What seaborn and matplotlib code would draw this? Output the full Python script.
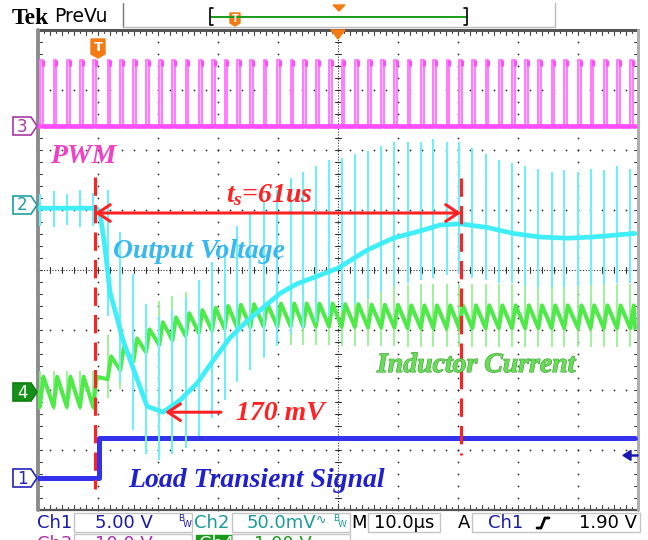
import numpy as np
import pandas as pd
import matplotlib
matplotlib.use("Agg")
import matplotlib.pyplot as plt
import seaborn as sns
from matplotlib.patches import Polygon, Rectangle
import matplotlib.patheffects as pe

# ---------------- scope settings ----------------
CH1_V_PER_DIV = 5.0      # load transient signal
CH2_MV_PER_DIV = 50.0    # output voltage (AC)
CH3_V_PER_DIV = 10.0     # PWM
CH4_A_PER_DIV = 1.0      # inductor current
TRIG_LEVEL_V = 1.90

# ---------------- waveform data (time in us, trigger at 0) ----------------
pwm_pulse_us = [-9.7, -7.4, -5.2, -3.0, -0.8, 1.6, 3.7, 5.9, 8.0, 10.2, 12.4, 14.6,
                16.8, 19.0, 21.1, 23.2, 25.4, 27.6, 29.9, 32.1, 34.2, 36.3, 38.5,
                40.6, 42.8, 45.0, 47.2, 49.4, 51.6, 53.8, 55.9, 58.1, 60.2, 62.4,
                64.6, 66.8, 69.0, 71.2, 73.4, 75.6, 77.7, 80.0, 82.1, 84.3, 86.5, 88.7]
pwm_high_v = 11.0
pwm_width_us = 0.45

# output voltage: deviation from the pre-step level
vout_t_us = [-10.0, -0.2, 0.33, 1.17, 2.0, 2.83, 4.17, 5.83, 8.17, 10.83, 13.67, 16.5,
             19.17, 22.0, 24.83, 27.5, 30.33, 33.17, 35.83, 40.0, 44.83, 49.17, 53.67,
             57.0, 60.33, 64.83, 69.17, 73.67, 78.17, 82.5, 89.5]
vout_dev_mv = [0, 0, -4, -33, -70, -85, -110, -133, -165, -170, -160, -146,
               -127, -108, -94, -83, -71, -63, -58, -50, -35, -25, -19,
               -14, -13, -16, -21, -24, -25, -24, -21]
vout_level0_mv = -2.5
# switching spikes on the output (extremes, same reference as vout_dev_mv)
vout_spike_hi_mv = [12, 14, 12, 15, 13, 15, -20, -55, -80, -90, -85, -75, -60, -45,
                    -30, -15, -5, 5, 15, 25, 30, 35, 40, 42, 45, 48, 52, 55, 55, 55,
                    58, 55, 55, 50, 45, 40, 38, 35, 33, 30, 32, 30, 33, 32, 35, 33]
vout_spike_lo_mv = [-15, -16, -14, -16, -15, -90, -145, -185, -205, -210, -205, -200,
                    -190, -175, -160, -145, -135, -125, -115, -105, -100, -95, -90,
                    -85, -80, -75, -70, -65, -62, -60, -58, -56, -55, -58, -60, -62,
                    -62, -65, -66, -66, -66, -65, -64, -63, -62, -62]

# inductor current at each switching instant
il_mean_a = [0.0, 0.0, 0.0, 0.0, 0.0, 0.40, 0.55, 0.70, 0.85, 0.97, 1.05, 1.12,
             1.17, 1.21, 1.24, 1.26, 1.27, 1.28, 1.28, 1.28, 1.28, 1.28, 1.28,
             1.27, 1.27, 1.26, 1.26, 1.26, 1.25, 1.25, 1.25, 1.25, 1.25, 1.25,
             1.25, 1.25, 1.25, 1.25, 1.25, 1.25, 1.25, 1.25, 1.25, 1.25, 1.25, 1.25]
il_ripple_a = [0.50] * 5 + [0.38] * 41
il_spike_up_a = [0.35] * 5 + [0.55] * 41
il_spike_dn_a = [0.30] * 5 + [0.50] * 41

# load step
load_t_us = [-10.0, 0.2, 0.2, 89.5]
load_v = [0.0, 0.0, 3.33, 3.33]

undershoot_mv = 170
settling_us = 61
settling_start_us = -0.5

# vertical positions of the channel ground markers (divisions)
CH1_POS, CH2_POS, CH3_POS, CH4_POS = -3.47, 1.08, 2.40, -2.03

# ---------------- style ----------------
sns.set_theme(style="white")
plt.rcParams["font.family"] = ["DejaVu Sans"]
plt.rcParams["mathtext.fontset"] = "custom"
plt.rcParams["mathtext.it"] = "Liberation Serif:bold:italic"
plt.rcParams["mathtext.rm"] = "Liberation Serif:bold:italic"

RED = "#FF2222"
MAGENTA = "#FF4CFF"
MAGENTA_E = "#FF7CFF"
MAGENTA_L = "#FFC2FF"
CYAN = "#3FEEF8"
CYAN_L = "#6FF0F8"
GREEN = "#4FEA4A"
GREEN_L = "#8EF08A"
BLUE = "#3333EE"

fig = plt.figure(figsize=(6.48, 5.4), dpi=100)
fig.patch.set_facecolor("white")
ax = fig.add_axes([38 / 648, (540 - 510) / 540, 600 / 648, 480 / 540])
ax.set_xlim(-10, 90)
ax.set_ylim(-4, 4)
ax.axis("off")

# ---------------- graticule ----------------
dot_kw = dict(color="#2a2a2a", s=1.6, linewidths=0, zorder=1, clip_on=False)
ys = np.arange(-4, 4.001, 0.2)
xs = np.arange(-10, 90.001, 2.0)
for gx in [0, 10, 20, 30, 50, 60, 70, 80]:
    ax.scatter(np.full(ys.size, gx), ys, **dot_kw)
for gy in [-3, -2, -1, 1, 2, 3]:
    ax.scatter(xs, np.full(xs.size, gy), **dot_kw)
# centre cross with minor ticks
ax.plot([40, 40], [-4, 4], color="#333333", lw=0.8, ls=(0, (1, 1.5)), zorder=1)
ax.plot([-10, 90], [0, 0], color="#333333", lw=0.8, ls=(0, (1, 1.5)), zorder=1)
for yy in ys:
    ax.plot([39.45, 40.55], [yy, yy], color="#333333", lw=0.8, zorder=1)
for xx in xs:
    ax.plot([xx, xx], [-0.055, 0.055], color="#333333", lw=0.8, zorder=1)
# frame with edge ticks
for yy in ys:
    ax.plot([-10, -9.35], [yy, yy], color="#444444", lw=0.8, zorder=1, clip_on=False)
    ax.plot([89.35, 90], [yy, yy], color="#444444", lw=0.8, zorder=1, clip_on=False)
for xx in np.arange(-10, 90.001, 1.0):
    ln = 0.09 if abs(xx - round(xx / 2) * 2) < 1e-6 else 0.05
    ax.plot([xx, xx], [4, 4 - ln], color="#444444", lw=0.8, zorder=1, clip_on=False)
    ax.plot([xx, xx], [-4, -4 + ln], color="#444444", lw=0.8, zorder=1, clip_on=False)
ax.plot([-10, 90], [4, 4], color="#555555", lw=2.2, zorder=2, clip_on=False)
ax.plot([-10, 90], [-4, -4], color="#555555", lw=1.6, zorder=2, clip_on=False)
ax.plot([-10, -10], [-4, 4], color="#8c8c8c", lw=2.8, zorder=2, clip_on=False)
ax.plot([90, 90], [-4, 4], color="#b0b0b0", lw=2.2, zorder=2, clip_on=False)

# ---------------- Ch1: load transient ----------------
load_df = pd.DataFrame({"t": load_t_us,
                        "y": CH1_POS + np.array(load_v) / CH1_V_PER_DIV})
sns.lineplot(data=load_df, x="t", y="y", sort=False, estimator=None,
             color=BLUE, lw=3.6, ax=ax, zorder=3)

# ---------------- Ch4: inductor current ----------------
rise_us = 0.6
it, iv = [-10.0], [il_mean_a[0]]
for k, tp in enumerate(pwm_pulse_us):
    it += [tp, tp + rise_us]
    iv += [il_mean_a[k] - il_ripple_a[k] / 2, il_mean_a[k] + il_ripple_a[k] / 2]
it.append(89.5)
iv.append(il_mean_a[-1] - il_ripple_a[-1] / 2)
il_df = pd.DataFrame({"t": it, "y": CH4_POS + np.array(iv) / CH4_A_PER_DIV})
ax.vlines(pwm_pulse_us,
          CH4_POS + (np.array(il_mean_a) - np.array(il_spike_dn_a)) / CH4_A_PER_DIV,
          CH4_POS + (np.array(il_mean_a) + np.array(il_spike_up_a)) / CH4_A_PER_DIV,
          color=GREEN_L, lw=1.2, zorder=4)
sns.lineplot(data=il_df, x="t", y="y", sort=False, estimator=None,
             color=GREEN, lw=2.9, ax=ax, zorder=4)

# ---------------- Ch2: output voltage ----------------
def vdiv(mv):
    return CH2_POS + (vout_level0_mv + np.asarray(mv, float)) / CH2_MV_PER_DIV

ax.vlines(pwm_pulse_us, vdiv(vout_spike_lo_mv), vdiv(vout_spike_hi_mv),
          color=CYAN_L, lw=1.5, zorder=5)
vout_df = pd.DataFrame({"t": vout_t_us, "y": vdiv(vout_dev_mv)})
sns.lineplot(data=vout_df, x="t", y="y", sort=False, estimator=None,
             color=CYAN, lw=3.4, ax=ax, zorder=5)

# ---------------- Ch3: PWM ----------------
pulse_h = pwm_high_v / CH3_V_PER_DIV
ax.bar(pwm_pulse_us, [pulse_h] * len(pwm_pulse_us), width=pwm_width_us,
       bottom=CH3_POS, align="edge", color=MAGENTA_L, linewidth=0, zorder=6)
pt, pv = [-10.0], [0.0]
for tp in pwm_pulse_us:
    pt += [tp, tp, tp + pwm_width_us, tp + pwm_width_us]
    pv += [0.0, pwm_high_v, pwm_high_v, 0.0]
pt.append(89.5)
pv.append(0.0)
pwm_df = pd.DataFrame({"t": pt, "y": CH3_POS + np.array(pv) / CH3_V_PER_DIV})
sns.lineplot(data=pwm_df, x="t", y="y", sort=False, estimator=None,
             color=MAGENTA_E, lw=1.4, ax=ax, zorder=6)
seg_t, seg_y, seg_u = [], [], []
starts = [-10.0] + [tp + pwm_width_us for tp in pwm_pulse_us]
ends = list(pwm_pulse_us) + [89.5]
for k, (a, b) in enumerate(zip(starts, ends)):
    seg_t += [a, b]
    seg_y += [CH3_POS, CH3_POS]
    seg_u += [k, k]
seg_df = pd.DataFrame({"t": seg_t, "y": seg_y, "u": seg_u})
sns.lineplot(data=seg_df, x="t", y="y", units="u", sort=False, estimator=None,
             color=MAGENTA, lw=3.4, ax=ax, zorder=6)
# brighter corner where each pulse turns off
ax.vlines([tp + pwm_width_us for tp in pwm_pulse_us], CH3_POS + pulse_h - 0.1,
          CH3_POS + pulse_h, color=MAGENTA, lw=2.2, zorder=6)

# ---------------- annotations ----------------
ann_font = dict(family="Liberation Serif", weight="bold", style="italic", size=20)
ts_end = settling_start_us + settling_us
dash_kw = dict(color=RED, lw=2.2, dashes=(6, 3), zorder=8)
ax.plot([settling_start_us, settling_start_us], [1.55, -3.65], **dash_kw)
ax.plot([ts_end, ts_end], [1.53, -3.08], **dash_kw)
ax.annotate("", xy=(settling_start_us, 0.95), xytext=(ts_end, 0.95),
            arrowprops=dict(arrowstyle="<->,head_length=0.45,head_width=0.3",
                            color=RED, lw=2.2, shrinkA=0, shrinkB=0,
                            mutation_scale=20), zorder=8)
ax.text(21.3, 1.13, r"$t_s$=61us", color=RED, ha="left", va="baseline",
        zorder=9, **ann_font)
v_min = vdiv(-undershoot_mv)
ax.annotate("", xy=(11.2, v_min), xytext=(20.5, v_min),
            arrowprops=dict(arrowstyle="->,head_length=0.45,head_width=0.3",
                            color=RED, lw=2.2, shrinkA=0, shrinkB=0,
                            mutation_scale=20), zorder=8)
ax.text(23.0, -2.5, f"{undershoot_mv} mV", color=RED, ha="left", va="baseline",
        zorder=9, **ann_font)

ax.text(-8.0, 1.78, "PWM", color="#F040C8", ha="left", va="baseline", zorder=9,
        **ann_font)
ax.text(2.5, 0.2, "Output Voltage", color="#38B8EE", ha="left", va="baseline",
        zorder=9, **ann_font)
ax.text(46.5, -1.7, "Inductor Current", color="#6ADB58", ha="left", va="baseline",
        zorder=9, path_effects=[pe.withStroke(linewidth=0.8, foreground="#3f9f3a")],
        **ann_font)
ax.text(5.0, -3.62, "Load Transient Signal", color="#2020CC", ha="left",
        va="baseline", zorder=9, **ann_font)

# ---------------- screen chrome (pixel coordinates) ----------------
ui = fig.add_axes([0, 0, 1, 1], zorder=10)
ui.set_xlim(0, 648)
ui.set_ylim(540, 0)
ui.axis("off")
ui.patch.set_alpha(0)

# top bar
ui.text(12, 24, "Tek", family="Liberation Serif", weight="bold", size=17,
        color="black", va="baseline")
ui.text(54, 22, "PreVu", size=13.5, color="black", va="baseline")
ui.plot([123, 123], [3, 27], color="#777777", lw=1)
ui.plot([123, 555], [27, 27], color="#bbbbbb", lw=1)
ui.plot([555, 555], [3, 27], color="#bbbbbb", lw=1)
ui.plot([211, 466], [17, 17], color="#1a9a1a", lw=1.4)
ui.plot([213, 210, 210, 213], [8, 8, 25, 25], color="black", lw=1.2)
ui.plot([464, 467, 467, 464], [8, 8, 25, 25], color="black", lw=1.2)
ui.add_patch(Polygon([[230, 13], [240, 13], [240, 23], [235, 26], [230, 23]],
                     closed=True, fc="#F47B12", ec="#F47B12"))
ui.text(235, 19, "T", color="white", size=7, weight="bold", ha="center", va="center")
ui.add_patch(Polygon([[333, 5], [345, 5], [339, 11]], closed=True,
                     fc="#F47B12", ec="#F47B12"))
# horizontal position marker and trigger marker on the graticule
ui.add_patch(Polygon([[331, 30], [345, 30], [338, 39]], closed=True,
                     fc="#F47B12", ec="#F47B12"))
ui.add_patch(Polygon([[91, 39], [105, 39], [105, 54], [98, 58], [91, 54]],
                     closed=True, fc="#F47B12", ec="#F47B12"))
ui.text(98, 47.5, "T", color="white", size=9.5, weight="bold", ha="center", va="center")

# channel ground markers
def chan_marker(yc, label, edge, fill, txt):
    pts = [[13, yc - 9], [31, yc - 9], [37, yc], [31, yc + 9], [13, yc + 9]]
    ui.add_patch(Polygon(pts, closed=True, fc=fill, ec=edge, lw=1.2))
    ui.text(22, yc + 0.5, label, color=txt, size=12, ha="center", va="center")

chan_marker(126, "3", "#A63AA6", "white", "#A63AA6")
chan_marker(205, "2", "#1E9E9E", "white", "#1E9E9E")
chan_marker(392, "4", "#0E7E0E", "#14901A", "white")
chan_marker(478, "1", "#2424B8", "white", "#2424B8")

# Ch1 trigger level arrow on the right edge
y_trig = 270 - (CH1_POS + TRIG_LEVEL_V / CH1_V_PER_DIV) * 60
ui.add_patch(Polygon([[623, y_trig], [631, y_trig - 5], [631, y_trig + 5]],
                     closed=True, fc="#1818B0", ec="#1818B0"))
ui.plot([630, 637], [y_trig, y_trig], color="#1818B0", lw=1.8)

# status bar
box_kw = dict(fill=False, ec="#c4c4c4", lw=1)
for x0, x1 in [(74, 192), (232, 350), (368, 440), (472, 640)]:
    ui.add_patch(Rectangle((x0, 513), x1 - x0, 19, **box_kw))
for x0, x1 in [(74, 192), (232, 350)]:
    ui.add_patch(Rectangle((x0, 534), x1 - x0, 19, **box_kw))
sb = dict(size=13, va="baseline")
ui.text(37, 528, "Ch1", color="#1a1aa8", **sb)
ui.text(95, 528, "5.00 V", color="#1a1aa8", **sb)
ui.text(178, 521, "B", color="#1a1aa8", size=6.5, va="baseline")
ui.text(183, 527, "W", color="#1a1aa8", size=6.5, va="baseline")
ui.text(194, 528, "Ch2", color="#1a9a9a", **sb)
ui.text(247, 528, "50.0mV", color="#1a9a9a", **sb)
ui.text(316, 524, "\u223f", color="#1a9a9a", size=9, va="baseline")
ui.text(333, 521, "B", color="#1a9a9a", size=6.5, va="baseline")
ui.text(338, 527, "W", color="#1a9a9a", size=6.5, va="baseline")
ui.text(351, 528, "M", color="black", **sb)
ui.text(374, 528, "10.0\u00b5s", color="black", **sb)
ui.text(458, 528, "A", color="black", **sb)
ui.text(488, 528, "Ch1", color="#1a1aa8", **sb)
ui.plot([537, 541, 545, 549], [528, 528, 518, 518], color="black", lw=2)
ui.text(579, 528, "1.90 V", color="black", **sb)
# second row (partly below the visible area)
ui.text(37, 549, "Ch3", color="#b02ab0", **sb)
ui.text(95, 549, "10.0 V", color="#b02ab0", **sb)
ui.add_patch(Rectangle((196, 535), 35, 18, fc="#1a9a1a", ec="#1a9a1a"))
ui.text(199, 549, "Ch4", color="white", **sb)
ui.text(254, 549, "1.00 V", color="#1a9a1a", **sb)

fig.savefig("out.png", dpi=100, facecolor="white")
